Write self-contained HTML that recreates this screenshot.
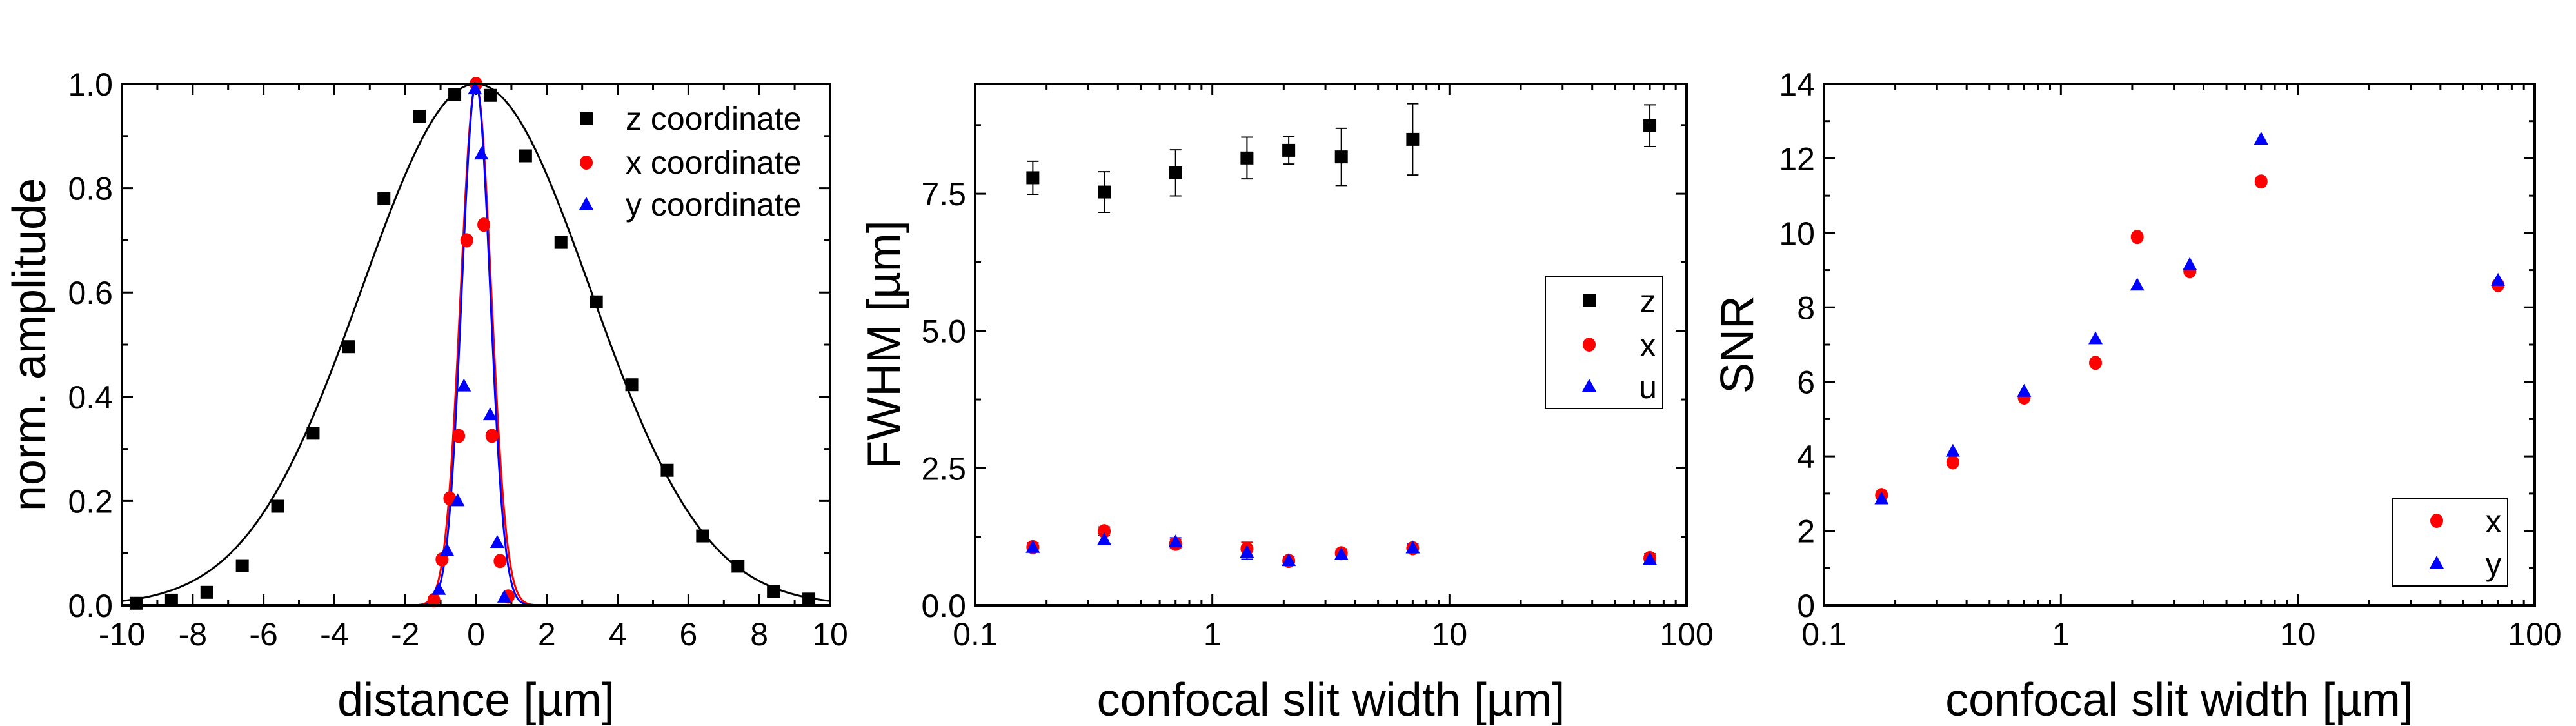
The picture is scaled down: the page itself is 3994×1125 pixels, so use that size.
<!DOCTYPE html>
<html><head><meta charset="utf-8"><style>
html,body{margin:0;padding:0;background:#fff;}
svg{display:block;font-family:"Liberation Sans",Arial,sans-serif;}
</style></head><body>
<svg id="fig" width="3994" height="1125" viewBox="0 0 3994 1125" xmlns="http://www.w3.org/2000/svg"></svg>
<script>
// ---- Panel 1 data: normalized amplitude profiles
const zDist = [-9.6,-8.6,-7.6,-6.6,-5.6,-4.6,-3.6,-2.6,-1.6,-0.6,0.4,1.4,2.4,3.4,4.4,5.4,6.4,7.4,8.4,9.4];
const zAmp  = [0.004,0.01,0.025,0.076,0.19,0.33,0.496,0.78,0.938,0.98,0.978,0.862,0.696,0.582,0.423,0.259,0.133,0.075,0.027,0.012];
const xDist = [-1.19,-0.96,-0.74,-0.49,-0.26,0.0,0.22,0.45,0.68,0.91];
const xAmp  = [0.01,0.088,0.205,0.325,0.70,1.0,0.73,0.325,0.085,0.017];
const yDist = [-1.05,-0.82,-0.52,-0.34,-0.03,0.15,0.4,0.6,0.8];
const yAmp  = [0.03,0.105,0.20,0.42,0.99,0.865,0.365,0.12,0.015];
const fitSigma = [3.23,0.43,0.40]; // z, x, y gaussian widths
const p1XTicks = [-10,-8,-6,-4,-2,0,2,4,6,8,10];
const p1YTicks = [0,0.2,0.4,0.6,0.8,1.0];
// ---- Panel 2 data: FWHM vs slit width
const slit = [0.175,0.35,0.7,1.4,2.1,3.5,7,70];
const fwhmZ = [7.79,7.53,7.88,8.15,8.29,8.17,8.49,8.74];
const fwhmZErr = [0.3,0.37,0.42,0.38,0.25,0.52,0.65,0.38];
const fwhmX = [1.06,1.35,1.12,1.03,0.81,0.95,1.04,0.86];
const fwhmY = [1.05,1.19,1.15,0.96,0.81,0.92,1.04,0.83];
const fwhmSmallErr = [0.08,0.08,0.08,0.12,0.08,0.08,0.08,0.08];
const p2YTicks = [0,2.5,5.0,7.5];
const logTicks = [0.1,1,10,100];
// ---- Panel 3 data: SNR vs slit width
const snrX = [2.96,3.84,5.58,6.51,9.89,8.97,11.38,8.6];
const snrY = [2.85,4.13,5.74,7.15,8.59,9.14,12.51,8.72];
const p3YTicks = [0,2,4,6,8,10,12,14];

const NS='http://www.w3.org/2000/svg';
const svg=document.getElementById('fig');
function mk(tag,attrs,parent){const e=document.createElementNS(NS,tag);for(const k in attrs)e.setAttribute(k,attrs[k]);(parent||svg).appendChild(e);return e;}
function linS(d0,d1,p0,p1){return v=>p0+(v-d0)/(d1-d0)*(p1-p0);}
function logS(d0,d1,p0,p1){return v=>p0+(Math.log10(v)-Math.log10(d0))/(Math.log10(d1)-Math.log10(d0))*(p1-p0);}

function square(g,cx,cy,name){const e=mk('rect',{x:cx-10,y:cy-10,width:20,height:20,fill:'#000'},g);

return e;}
function circle(g,cx,cy,name){const e=mk('ellipse',{cx:cx,cy:cy,rx:10,ry:11,fill:'#f00'},g);

return e;}
function tri(g,cx,cy,name){const e=mk('polygon',{points:`${cx},${cy-12} ${cx+11},${cy+8} ${cx-11},${cy+8}`,fill:'#00f'},g);

return e;}

function frame(g,L,R,T,B){const r=mk('rect',{x:L,y:T,width:R-L,height:B-T,fill:'none',stroke:'#000','stroke-width':4},g);

}
function ytick(g,L,R,y,len){mk('line',{x1:L,y1:y,x2:L+len,y2:y,stroke:'#000','stroke-width':3},g);mk('line',{x1:R,y1:y,x2:R-len,y2:y,stroke:'#000','stroke-width':3},g);}
function xtick(g,T,B,x,len){mk('line',{x1:x,y1:B,x2:x,y2:B-len,stroke:'#000','stroke-width':3},g);mk('line',{x1:x,y1:T,x2:x,y2:T+len,stroke:'#000','stroke-width':3},g);}
function label(g,x,y,txt,size,anchor,name){const t=mk('text',{x:x,y:y,'font-size':size,'text-anchor':anchor||'middle',fill:'#000'},g);t.textContent=txt;

return t;}

// ===== Panel 1 =====
(function(){
const L=189,R=1287,T=130,B=938;
const g=mk('g',{});


const X=linS(-10,10,L,R),Y=linS(0,1,B,T);
for(let v=-10;v<=10;v+=1){xtick(g,T,B,X(v),(v%2===0)?17:9);}
for(let i=0;i<=10;i++){ytick(g,L,R,Y(i/10),(i%2===0)?17:9);}
p1XTicks.forEach(v=>label(g,X(v),1000,String(v),50,'middle','x-tick-label'));
p1YTicks.forEach(v=>label(g,L-14,Y(v)+18,v.toFixed(1),50,'end','y-tick-label'));
label(g,(L+R)/2,1109,'distance [\u00b5m]',72,'middle','x-axis-title');
const yt=label(g,0,0,'norm. amplitude',72,'middle','y-axis-title');yt.setAttribute('transform',`translate(70,${(T+B)/2}) rotate(-90)`);
const cols=['#000','#f00','#00f'];
fitSigma.forEach((s,k)=>{let d='';for(let i=0;i<=800;i++){const v=-10+20*i/800;const a=Math.exp(-v*v/(2*s*s));d+=(i?'L':'M')+X(v).toFixed(1)+','+Y(a).toFixed(1);}
const p=mk('path',{d:d,fill:'none',stroke:cols[k],'stroke-width':3},g);

});
zDist.forEach((v,i)=>square(g,X(v),Y(zAmp[i]),'z-point'));
xDist.forEach((v,i)=>circle(g,X(v),Y(xAmp[i]),'x-point'));
yDist.forEach((v,i)=>tri(g,X(v),Y(yAmp[i]),'y-point'));
frame(g,L,R,T,B);
const lg=mk('g',{},g);
square(lg,909,184,'legend-z-marker');circle(lg,909,252,'legend-x-marker');tri(lg,909,317,'legend-y-marker');
label(lg,970,201,'z coordinate',50,'start','legend-z-label');
label(lg,970,269,'x coordinate',50,'start','legend-x-label');
label(lg,970,334,'y coordinate',50,'start','legend-y-label');
})();

function logXAxis(g,L,R,T,B,X){
for(let d=0.1;d<100;d*=10){for(let m=1;m<10;m++){const v=d*m;xtick(g,T,B,X(v),m===1?17:9);}}
xtick(g,T,B,X(100),17);
logTicks.forEach(v=>label(g,X(v),1000,String(v),50,'middle','x-tick-label'));
label(g,(L+R)/2,1109,'confocal slit width [\u00b5m]',72,'middle','x-axis-title');
}

// ===== Panel 2 =====
(function(){
const L=1512,R=2615,T=130,B=938;
const g=mk('g',{});


const X=logS(0.1,100,L,R),Y=linS(0,9.5,B,T);
for(let i=0;i<=7;i++){ytick(g,L,R,Y(i*1.25),(i%2===0)?17:9);}
logXAxis(g,L,R,T,B,X);
p2YTicks.forEach(v=>label(g,L-14,Y(v)+18,v.toFixed(1),50,'end','y-tick-label'));
const yt=label(g,0,0,'FWHM [\u00b5m]',72,'middle','y-axis-title');yt.setAttribute('transform',`translate(1395,${(T+B)/2}) rotate(-90)`);
function err(x,v,e,col){const a=Y(v+e),b=Y(v-e);const p=mk('path',{d:`M${x},${a}V${b}M${x-9},${a}h18M${x-9},${b}h18`,stroke:col,'stroke-width':2,fill:'none'},g);

}
slit.forEach((s,i)=>{err(X(s),fwhmZ[i],fwhmZErr[i],'#000');err(X(s),fwhmX[i],fwhmSmallErr[i],'#f00');err(X(s),fwhmY[i],fwhmSmallErr[i],'#00f');});
slit.forEach((s,i)=>square(g,X(s),Y(fwhmZ[i]),'z-fwhm-point'));
slit.forEach((s,i)=>circle(g,X(s),Y(fwhmX[i]),'x-fwhm-point'));
slit.forEach((s,i)=>tri(g,X(s),Y(fwhmY[i]),'y-fwhm-point'));
frame(g,L,R,T,B);
const lg=mk('g',{},g);
const box=mk('rect',{x:2396,y:429,width:182,height:204,fill:'#fff',stroke:'#000','stroke-width':2},lg);

square(lg,2464,466,'legend-z-marker');circle(lg,2464,534,'legend-x-marker');tri(lg,2464,599,'legend-u-marker');
label(lg,2555,484,'z',50,'middle','legend-z-label');
label(lg,2555,552,'x',50,'middle','legend-x-label');
label(lg,2555,617,'u',50,'middle','legend-u-label');
})();

// ===== Panel 3 =====
(function(){
const L=2828,R=3930,T=130,B=938;
const g=mk('g',{});


const X=logS(0.1,100,L,R),Y=linS(0,14,B,T);
for(let i=0;i<=14;i++){ytick(g,L,R,Y(i),(i%2===0)?17:9);}
logXAxis(g,L,R,T,B,X);
p3YTicks.forEach(v=>label(g,L-14,Y(v)+18,String(v),50,'end','y-tick-label'));
const yt=label(g,0,0,'SNR',72,'middle','y-axis-title');yt.setAttribute('transform',`translate(2718,${(T+B)/2}) rotate(-90)`);
slit.forEach((s,i)=>circle(g,X(s),Y(snrX[i]),'x-snr-point'));
slit.forEach((s,i)=>tri(g,X(s),Y(snrY[i]),'y-snr-point'));
frame(g,L,R,T,B);
const lg=mk('g',{},g);
const box=mk('rect',{x:3709,y:773,width:179,height:135,fill:'#fff',stroke:'#000','stroke-width':2},lg);

circle(lg,3778,807,'legend-x-marker');tri(lg,3778,873,'legend-y-marker');
label(lg,3866,825,'x',50,'middle','legend-x-label');
label(lg,3866,891,'y',50,'middle','legend-y-label');
})();
</script>
</body></html>
